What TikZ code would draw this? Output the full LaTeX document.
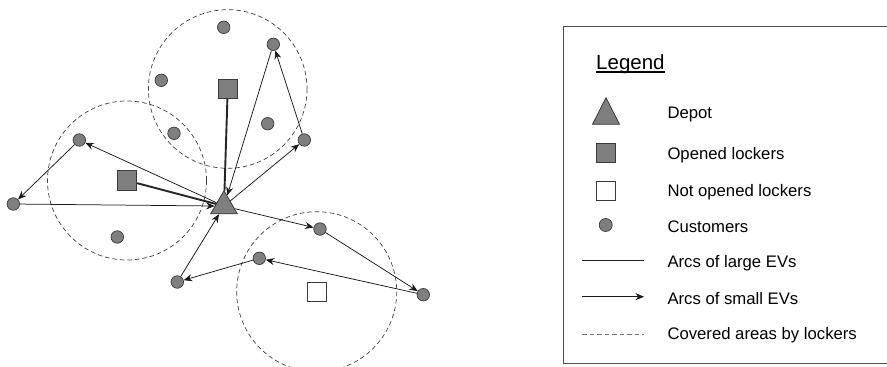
\documentclass[tikz,border=0pt]{standalone}
\usepackage{fontspec}
\setmainfont{Liberation Sans}
\usetikzlibrary{shapes.geometric,arrows.meta,backgrounds}
\definecolor{nodegray}{HTML}{7F7F7F}
\definecolor{nodeedge}{HTML}{3A3A3A}
\begin{document}
\begin{tikzpicture}[x=1pt,y=-1pt,
  cust/.style={circle, fill=nodegray, draw=nodeedge, line width=0.7pt, minimum size=12.5pt, inner sep=0pt},
  locker/.style={rectangle, fill=nodegray, draw=nodeedge, line width=0.8pt, minimum size=19.5pt, inner sep=0pt},
  emptylocker/.style={locker, fill=white},
  depotshape/.style={regular polygon, regular polygon sides=3, minimum size=30.8pt, inner sep=0pt, fill=nodegray, draw=nodeedge, line width=0.8pt},
  large/.style={line width=1.9pt, draw=black!85},
  small/.style={line width=0.75pt, draw=black!90, -{Stealth[length=8.5pt,width=7pt]}},
  area/.style={draw=black!75, line width=0.7pt, dash pattern=on 4.5pt off 3pt},
  legtext/.style={anchor=base west, inner sep=0pt, font=\fontsize{16.7}{20}\selectfont}
]
\useasboundingbox (0,0) rectangle (887,367);
\clip (0,0) rectangle (887,367);

% lockers and depot
\node[locker] (L1) at (227.7,89) {};
\node[locker] (L2) at (127,180.5) {};
\node[emptylocker] (L3) at (316.7,291.7) {};
\node[depotshape] (depot) at (224,206.1) {};

% customers
\node[cust] (c1) at (223.7,27.3) {};
\node[cust] (c2) at (273.3,44.3) {};
\node[cust] (c3) at (161.3,80.3) {};
\node[cust] (c4) at (174,133.3) {};
\node[cust] (c5) at (267.7,123.7) {};
\node[cust] (c6) at (304.3,140) {};
\node[cust] (c7) at (79.3,140) {};
\node[cust] (c8) at (13.3,204) {};
\node[cust] (c9) at (117.3,237) {};
\node[cust] (c10) at (320,229) {};
\node[cust] (c11) at (259.3,258.3) {};
\node[cust] (c12) at (177.3,282) {};
\node[cust] (c13) at (423.3,294.7) {};

% covered areas
\begin{scope}[on background layer]
\draw[area] (L1.center) circle[radius=79.3];
\draw[area] (L2.center) circle[radius=79.5];
\draw[area] (L3.center) circle[radius=80];
\end{scope}

% arcs of large EVs
\draw[large] (L1) -- (depot);
\draw[large] (L2) -- (depot);

% arcs of small EVs
\draw[small] (depot) -- (c7);
\draw[small] (c7) -- (c8);
\draw[small] (c8) -- (depot);
\draw[small] (c2) -- (depot);
\draw[small] (depot) -- (c6);
\draw[small] (c6) -- (c2);
\draw[small] (depot) -- (c10);
\draw[small] (c10) -- (c13);
\draw[small] (c13) -- (c11);
\draw[small] (c11) -- (c12);
\draw[small] (c12) -- (depot);

% legend
\draw[draw=black!70, line width=1pt] (563,26) rectangle (892,363);
\node[anchor=base west, inner sep=0pt, font=\fontsize{20.5}{24}\selectfont] (ltitle) at (596,69.3) {Legend};
\draw[line width=1.3pt] ([yshift=-2.6pt]ltitle.base west) -- ([yshift=-2.6pt]ltitle.base east);

\fill[nodegray, draw=nodeedge, line width=0.8pt] (592.5,124.3) -- (606,97.7) -- (619.5,124.3) -- cycle;
\node[legtext] (t1) at (667.3,118.7) {Depot};
\node[locker] (lg2) at (605.8,153) {};
\node[legtext] (t2) at (667.3,159.3) {Opened lockers};
\node[emptylocker, minimum size=19.3pt] (lg3) at (605.8,190.7) {};
\node[legtext] (t3) at (667.3,196.7) {Not opened lockers};
\node[cust, minimum size=13pt] (lg4) at (605.7,225) {};
\node[legtext] (t4) at (667.3,232.7) {Customers};
\coordinate (a1) at (582,260.7);
\coordinate (b1) at (644,260.7);
\draw[large, line width=1.5pt] (a1) -- (b1);
\node[legtext] (t5) at (667.3,267.7) {Arcs of large EVs};
\coordinate (a2) at (582,296.7);
\coordinate (b2) at (644,296.7);
\draw[small] (a2) -- (b2);
\node[legtext] (t6) at (667.3,304) {Arcs of small EVs};
\coordinate (a3) at (582,334);
\coordinate (b3) at (644,334);
\draw[area, draw=black!55] (a3) -- (b3);
\node[legtext] (t7) at (667.3,339.3) {Covered areas by lockers};
\end{tikzpicture}
\end{document}
